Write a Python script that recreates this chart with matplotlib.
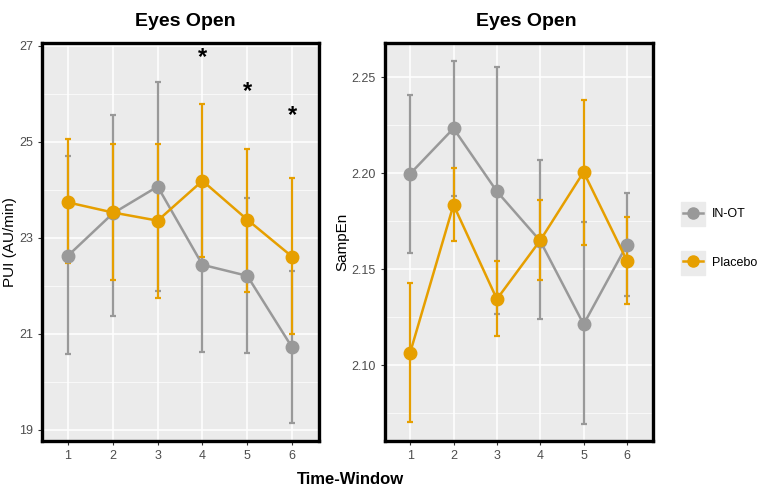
import matplotlib.pyplot as plt
import matplotlib.patches as mpatches
from matplotlib.lines import Line2D

plt.rcParams['font.family'] = ['Liberation Sans', 'DejaVu Sans']

# data
windows = [1, 2, 3, 4, 5, 6]

pui_inot = [22.63, 23.51, 24.07, 22.44, 22.21, 20.72]
pui_inot_lo = [20.58, 21.38, 21.90, 20.62, 20.61, 19.14]
pui_inot_hi = [24.71, 25.55, 26.24, 24.26, 23.84, 22.32]

pui_plac = [23.74, 23.53, 23.36, 24.19, 23.38, 22.61]
pui_plac_lo = [22.47, 22.12, 21.75, 22.61, 21.88, 20.99]
pui_plac_hi = [25.06, 24.95, 24.96, 25.79, 24.86, 24.24]

samp_inot = [2.1998, 2.2234, 2.1906, 2.1648, 2.1214, 2.1628]
samp_inot_lo = [2.1587, 2.1882, 2.1267, 2.1240, 2.0696, 2.1361]
samp_inot_hi = [2.2409, 2.2587, 2.2555, 2.2069, 2.1745, 2.1899]

samp_plac = [2.1066, 2.1836, 2.1345, 2.1651, 2.2007, 2.1545]
samp_plac_lo = [2.0703, 2.1649, 2.1153, 2.1444, 2.1628, 2.1317]
samp_plac_hi = [2.1427, 2.2029, 2.1543, 2.1861, 2.2384, 2.1774]

pui_ticks = [19, 21, 23, 25, 27]
pui_minor = [20, 22, 24, 26]
samp_ticks = [2.10, 2.15, 2.20, 2.25]
samp_minor = [2.075, 2.125, 2.175, 2.225]

star_x = [4, 5, 6]
star_y = [26.75, 26.05, 25.55]

gray = '#999999'
orange = '#E69F00'

fig = plt.figure(figsize=(7.6, 4.88), dpi=100)
ax1 = fig.add_axes([42/760, 47/488, 277/760, 398/488])
ax2 = fig.add_axes([385/760, 47/488, 268/760, 398/488])


def panel(ax, series, ylim, major, minor, ylabel, fmt):
    ax.set_facecolor('#EBEBEB')
    for y, lo, hi, c in series:
        ax.errorbar(windows, y, yerr=[[a - b for a, b in zip(y, lo)], [b - a for a, b in zip(y, hi)]],
                    color=c, lw=1.8, ms=9, marker='o', elinewidth=1.6, capsize=2, capthick=1.6, zorder=3)
    ax.set_xlim(0.42, 6.6)
    ax.set_ylim(*ylim)
    ax.set_xticks(windows)
    ax.set_yticks(major)
    ax.set_yticks(minor, minor=True)
    ax.set_yticklabels([fmt.format(v) for v in major])
    ax.grid(which='major', color='white', lw=1.1)
    ax.grid(which='minor', axis='y', color='white', lw=0.5)
    ax.set_axisbelow(True)
    for s in ax.spines.values():
        s.set_linewidth(2.4)
        s.set_color('black')
    ax.tick_params(which='major', length=3, color='#333333', labelcolor='#4D4D4D', labelsize=9)
    ax.tick_params(which='minor', length=0)
    ax.set_ylabel(ylabel, fontsize=11)


panel(ax1, [(pui_inot, pui_inot_lo, pui_inot_hi, gray), (pui_plac, pui_plac_lo, pui_plac_hi, orange)],
      (18.77, 27.06), pui_ticks, pui_minor, 'PUI (AU/min)', '{:.0f}')
panel(ax2, [(samp_inot, samp_inot_lo, samp_inot_hi, gray), (samp_plac, samp_plac_lo, samp_plac_hi, orange)],
      (2.0606, 2.2679), samp_ticks, samp_minor, 'SampEn', '{:.2f}')
ax1.yaxis.set_label_coords(-(42 - 17) / 277, 0.5)
ax2.yaxis.set_label_coords(-(385 - 349) / 268, 0.5)

for x, y in zip(star_x, star_y):
    ax1.text(x, y, '*', fontsize=17, fontweight='bold', ha='center', va='center')

fig.text(185/760, 1 - 22/488, 'Eyes Open', fontsize=14, fontweight='bold', ha='center', va='center')
fig.text(526/760, 1 - 22/488, 'Eyes Open', fontsize=14, fontweight='bold', ha='center', va='center')
fig.text(350/760, 1 - 479/488, 'Time-Window', fontsize=12, fontweight='bold', ha='center', va='center')

# legend
for yc in [214, 263]:
    fig.patches.append(mpatches.Rectangle((681/760, 1 - (yc + 12)/488), 24/760, 24/488,
                                          transform=fig.transFigure, color='#EBEBEB', zorder=0))
handles = [Line2D([], [], color=gray, marker='o', ms=8, lw=1.8),
           Line2D([], [], color=orange, marker='o', ms=8, lw=1.8)]
fig.legend(handles, ['IN-OT', 'Placebo'], loc='center left', bbox_to_anchor=(683/760, 1 - 238.5/488),
           frameon=False, fontsize=9, handlelength=1.6, handletextpad=0.7, labelspacing=2.9,
           borderpad=0, borderaxespad=0)

fig.savefig('out.png', dpi=100)
